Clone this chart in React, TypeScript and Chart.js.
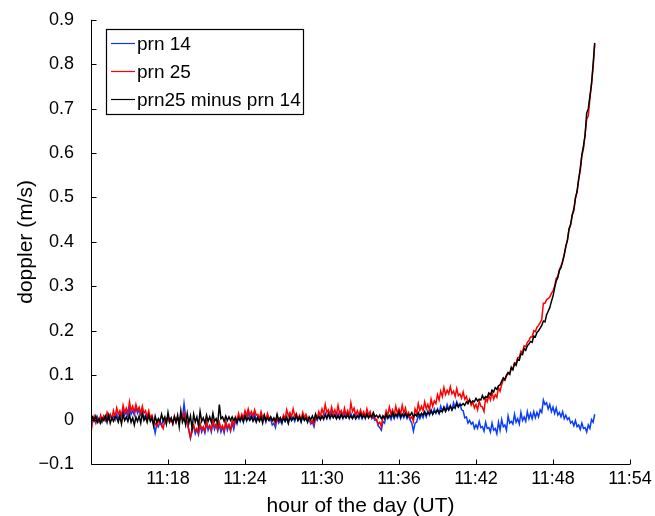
import { useEffect, useRef } from "react";
import { Chart, registerables } from "chart.js";

Chart.register(...registerables);

// sample times: minutes after 11:00, starting 11:12, every 0.125 min (8 per row = 1 minute)
const startMinute = 12;
const stepMinute = 0.125;

const prn14 = [
  0.004, -0.006, 0.002, -0.008, 0.006, -0.003, 0.004, -0.005,
  0.007, -0.002, 0.006, 0.000, 0.010, 0.001, 0.007, -0.001,
  0.012, 0.002, 0.011, 0.008, 0.021, 0.010, 0.017, 0.006,
  0.024, 0.012, 0.020, 0.010, 0.027, 0.014, 0.022, 0.010,
  0.016, 0.004, 0.010, 0.002, 0.009, -0.002, 0.003, -0.010,
  -0.030, -0.010, -0.016, -0.004, -0.014, 0.000, -0.008, 0.002,
  0.006, -0.006, 0.002, -0.010, 0.006, -0.004, 0.003, -0.006,
  0.010, 0.002, 0.036, 0.006, -0.008, -0.024, -0.042, -0.022,
  -0.016, -0.032, -0.022, -0.034, -0.012, -0.028, -0.018, -0.030,
  -0.008, -0.024, -0.014, -0.028, -0.006, -0.022, -0.012, -0.026,
  -0.012, -0.028, -0.016, -0.030, -0.008, -0.024, -0.012, -0.026,
  -0.008, -0.022, -0.002, -0.010, 0.008, -0.004, 0.006, -0.006,
  0.010, -0.002, 0.016, 0.004, 0.010, 0.002, 0.012, 0.000,
  0.006, -0.002, 0.008, -0.004, 0.006, -0.006, 0.008, -0.002,
  0.000, -0.012, -0.008, -0.018, 0.004, -0.008, -0.002, -0.010,
  0.006, -0.004, 0.002, -0.008, 0.010, -0.002, 0.006, -0.004,
  0.008, -0.002, 0.004, -0.006, 0.010, 0.000, 0.004, -0.004,
  0.000, -0.010, -0.006, -0.016, 0.004, -0.002, 0.010, 0.000,
  0.008, 0.000, 0.014, 0.004, 0.010, 0.002, 0.016, 0.006,
  0.012, 0.002, 0.014, 0.004, 0.012, 0.002, 0.014, 0.004,
  0.010, 0.002, 0.014, 0.004, 0.012, 0.002, 0.010, 0.002,
  0.012, 0.002, 0.010, 0.002, 0.014, 0.004, 0.012, 0.002,
  0.006, -0.002, 0.000, -0.014, -0.018, -0.024, -0.004, -0.008,
  0.010, 0.002, 0.008, 0.000, 0.012, 0.002, 0.012, 0.004,
  0.014, 0.002, 0.012, 0.004, 0.014, 0.002, 0.010, -0.002,
  -0.008, -0.026, -0.008, -0.006, 0.010, 0.002, 0.012, 0.004,
  0.016, 0.006, 0.020, 0.010, 0.022, 0.012, 0.024, 0.014,
  0.024, 0.014, 0.030, 0.018, 0.028, 0.020, 0.034, 0.022,
  0.032, 0.022, 0.038, 0.026, 0.040, 0.030, 0.036, 0.022,
  0.020, 0.004, 0.006, -0.008, -0.002, -0.010, -0.006, -0.020,
  -0.012, -0.020, -0.004, -0.018, -0.016, -0.026, -0.006, -0.020,
  -0.018, -0.028, -0.008, -0.024, -0.020, -0.032, -0.006, -0.024,
  0.000, -0.016, -0.012, -0.024, 0.008, -0.008, -0.004, -0.010,
  0.012, -0.006, 0.002, -0.010, 0.016, -0.002, 0.006, -0.004,
  0.018, 0.002, 0.014, 0.002, 0.018, 0.004, 0.016, 0.006,
  0.022, 0.016, 0.044, 0.034, 0.038, 0.024, 0.034, 0.018,
  0.028, 0.014, 0.026, 0.010, 0.016, 0.006, 0.018, 0.002,
  0.010, 0.000, 0.004, -0.008, -0.004, -0.014, -0.002, -0.016,
  -0.012, -0.022, -0.008, -0.020, -0.018, -0.028, -0.012, -0.020,
  0.000, -0.006, 0.012,
];

const prn25 = [
  -0.030, -0.004, 0.008, -0.004, 0.002, -0.006, 0.010, -0.002,
  0.008, 0.000, 0.016, 0.004, 0.012, 0.002, 0.020, 0.006,
  0.026, 0.012, 0.020, 0.008, 0.032, 0.016, 0.026, 0.014,
  0.040, 0.020, 0.030, 0.016, 0.034, 0.020, 0.028, 0.014,
  0.030, 0.014, 0.020, 0.006, 0.020, 0.004, 0.010, -0.004,
  -0.008, -0.016, 0.000, -0.010, -0.012, -0.020, -0.002, -0.006,
  0.006, -0.006, 0.002, -0.010, 0.008, -0.006, 0.004, -0.004,
  0.010, 0.002, 0.016, 0.000, -0.004, -0.024, -0.040, -0.022,
  -0.012, -0.026, -0.020, -0.030, -0.008, -0.022, -0.016, -0.026,
  -0.004, -0.018, -0.014, -0.024, -0.002, -0.016, -0.010, -0.022,
  -0.006, -0.020, -0.014, -0.026, -0.004, -0.018, -0.012, -0.024,
  -0.002, -0.014, 0.006, -0.002, 0.014, 0.000, 0.012, 0.004,
  0.020, 0.008, 0.024, 0.010, 0.018, 0.008, 0.022, 0.010,
  0.012, 0.002, 0.018, 0.004, 0.010, -0.002, 0.014, 0.002,
  0.006, -0.004, 0.000, -0.010, 0.008, -0.004, 0.004, -0.002,
  0.010, 0.002, 0.022, 0.008, 0.016, 0.006, 0.024, 0.008,
  0.014, 0.002, 0.010, 0.000, 0.016, 0.004, 0.012, 0.002,
  0.004, -0.006, -0.002, -0.012, 0.012, 0.002, 0.018, 0.008,
  0.024, 0.012, 0.034, 0.016, 0.022, 0.010, 0.028, 0.012,
  0.022, 0.010, 0.032, 0.014, 0.020, 0.008, 0.026, 0.010,
  0.020, 0.008, 0.038, 0.018, 0.026, 0.010, 0.020, 0.010,
  0.022, 0.010, 0.018, 0.006, 0.024, 0.010, 0.018, 0.004,
  0.014, 0.002, 0.000, -0.010, -0.006, -0.016, 0.008, 0.004,
  0.020, 0.010, 0.028, 0.012, 0.022, 0.010, 0.030, 0.014,
  0.024, 0.012, 0.032, 0.014, 0.026, 0.010, 0.016, 0.002,
  0.006, -0.004, 0.024, 0.014, 0.036, 0.020, 0.030, 0.020,
  0.040, 0.024, 0.034, 0.022, 0.046, 0.030, 0.042, 0.036,
  0.056, 0.044, 0.064, 0.052, 0.072, 0.056, 0.066, 0.058,
  0.074, 0.058, 0.064, 0.052, 0.070, 0.054, 0.058, 0.048,
  0.062, 0.046, 0.052, 0.038, 0.046, 0.032, 0.040, 0.026,
  0.034, 0.022, 0.042, 0.030, 0.028, 0.018, 0.048, 0.040,
  0.054, 0.044, 0.062, 0.046, 0.056, 0.050, 0.072, 0.064,
  0.078, 0.090, 0.088, 0.098, 0.104, 0.102, 0.116, 0.114,
  0.128, 0.126, 0.140, 0.140, 0.154, 0.152, 0.166, 0.164,
  0.174, 0.178, 0.186, 0.186, 0.200, 0.198, 0.208, 0.212,
  0.218, 0.226, 0.262, 0.262, 0.270, 0.272, 0.276, 0.284,
  0.290, 0.300, 0.318, 0.322, 0.338, 0.346, 0.356, 0.370,
  0.390, 0.404, 0.430, 0.438, 0.462, 0.470, 0.500, 0.512,
  0.542, 0.560, 0.594, 0.610, 0.642, 0.676, 0.684, 0.722,
  0.754, 0.792, 0.845,
];

const prn25MinusPrn14 = [
  -0.004, 0.006, -0.002, 0.008, -0.006, 0.002, -0.008, 0.004,
  -0.002, 0.008, -0.006, 0.010, -0.008, 0.004, -0.004, 0.006,
  0.004, -0.006, 0.008, -0.010, 0.012, -0.002, 0.006, -0.004,
  0.010, -0.006, 0.004, -0.012, 0.006, -0.004, 0.008, -0.008,
  0.014, -0.002, 0.006, -0.006, 0.010, -0.004, 0.004, -0.014,
  0.008, -0.006, 0.002, -0.004, 0.012, -0.002, 0.006, -0.010,
  0.016, -0.004, 0.004, -0.008, 0.006, -0.006, 0.010, -0.016,
  0.020, -0.006, 0.004, -0.012, 0.014, -0.008, 0.008, -0.020,
  0.012, -0.006, 0.006, -0.014, 0.018, -0.004, 0.004, -0.008,
  0.010, -0.004, 0.006, -0.006, 0.014, -0.004, 0.002, -0.010,
  0.034, 0.002, 0.006, -0.004, 0.008, -0.002, 0.006, -0.002,
  0.006, -0.002, 0.004, -0.006, 0.004, -0.002, 0.006, -0.004,
  0.008, -0.002, 0.004, -0.002, 0.006, -0.004, 0.004, -0.006,
  0.004, -0.004, 0.006, -0.008, 0.010, -0.002, 0.004, -0.002,
  0.006, -0.002, 0.004, -0.004, 0.012, -0.002, 0.004, -0.006,
  0.004, -0.004, 0.006, -0.008, 0.006, -0.002, 0.004, 0.000,
  0.010, -0.002, 0.006, -0.004, 0.008, -0.002, 0.004, -0.006,
  0.006, 0.000, 0.008, -0.002, 0.012, 0.002, 0.006, 0.000,
  0.008, 0.002, 0.010, 0.002, 0.014, 0.004, 0.010, 0.004,
  0.010, 0.002, 0.008, 0.002, 0.012, 0.004, 0.008, 0.004,
  0.012, 0.004, 0.008, 0.002, 0.010, 0.002, 0.008, 0.006,
  0.014, 0.004, 0.010, 0.004, 0.012, 0.004, 0.010, 0.006,
  0.016, 0.006, 0.010, 0.004, 0.010, 0.002, 0.008, 0.002,
  0.012, 0.004, 0.010, 0.006, 0.016, 0.006, 0.012, 0.008,
  0.018, 0.006, 0.012, 0.008, 0.014, 0.006, 0.012, 0.010,
  0.016, 0.006, 0.012, 0.008, 0.016, 0.008, 0.014, 0.010,
  0.018, 0.010, 0.016, 0.012, 0.020, 0.012, 0.018, 0.016,
  0.022, 0.014, 0.020, 0.018, 0.028, 0.018, 0.026, 0.022,
  0.030, 0.022, 0.028, 0.026, 0.036, 0.028, 0.034, 0.032,
  0.036, 0.032, 0.040, 0.036, 0.044, 0.038, 0.042, 0.040,
  0.048, 0.042, 0.046, 0.044, 0.054, 0.046, 0.052, 0.050,
  0.060, 0.056, 0.066, 0.062, 0.072, 0.068, 0.076, 0.078,
  0.086, 0.094, 0.090, 0.100, 0.106, 0.102, 0.118, 0.112,
  0.126, 0.122, 0.136, 0.134, 0.148, 0.146, 0.160, 0.156,
  0.166, 0.170, 0.176, 0.174, 0.188, 0.186, 0.196, 0.200,
  0.206, 0.212, 0.222, 0.220, 0.236, 0.244, 0.252, 0.266,
  0.278, 0.296, 0.312, 0.320, 0.336, 0.342, 0.356, 0.372,
  0.390, 0.404, 0.428, 0.440, 0.460, 0.474, 0.498, 0.514,
  0.540, 0.566, 0.596, 0.616, 0.640, 0.690, 0.700, 0.728,
  0.756, 0.800, 0.848,
];

const xTickMinutes = [18, 24, 30, 36, 42, 48, 54];
const yTickValues = [-0.1, 0, 0.1, 0.2, 0.3, 0.4, 0.5, 0.6, 0.7, 0.8, 0.9];
const seriesLabels = ["prn 14", "prn 25", "prn25 minus prn 14"];
const seriesColors = ["#0a3cff", "#ff0000", "#000000"];

const FONT = "'Liberation Sans', Arial, Helvetica, sans-serif";

function formatY(v: number): string {
  if (Math.abs(v) < 1e-9) return "0";
  return v < 0 ? "\u2212" + Math.abs(v).toFixed(1) : v.toFixed(1);
}

export default function App() {
  const ref = useRef<HTMLCanvasElement | null>(null);

  useEffect(() => {
    document.body.style.margin = "0";
    const canvas = ref.current;
    if (!canvas) return;
    const toPts = (arr: number[]) =>
      arr.map((v, i) => ({ x: startMinute + i * stepMinute, y: v }));

    const axesPlugin = {
      id: "matlabAxes",
      afterDatasetsDraw(chart: any) {
        const { ctx, chartArea: a } = chart;
        const xs = chart.scales.x;
        const ys = chart.scales.y;
        ctx.save();
        ctx.strokeStyle = "#000";
        ctx.lineWidth = 1;
        const L = Math.round(a.left) + 0.5;
        const B = Math.round(a.bottom) + 0.5;
        const T = ys.getPixelForValue(yTickValues[yTickValues.length - 1]);
        const R = xs.getPixelForValue(xTickMinutes[xTickMinutes.length - 1]);
        ctx.beginPath();
        ctx.moveTo(L, T);
        ctx.lineTo(L, B);
        ctx.lineTo(R, B);
        for (const v of yTickValues) {
          const py = Math.round(ys.getPixelForValue(v)) + 0.5;
          ctx.moveTo(L, py);
          ctx.lineTo(L + 5, py);
        }
        for (const v of xTickMinutes) {
          const px = Math.round(xs.getPixelForValue(v)) + 0.5;
          ctx.moveTo(px, B);
          ctx.lineTo(px, B - 5);
        }
        ctx.stroke();

        // legend box
        const bx = 106.5, by = 29.5, bw = 197, bh = 85;
        ctx.fillStyle = "#fff";
        ctx.fillRect(bx, by, bw, bh);
        ctx.lineWidth = 1.2;
        ctx.strokeStyle = "#000";
        ctx.strokeRect(bx, by, bw, bh);
        ctx.font = `19px ${FONT}`;
        ctx.textBaseline = "middle";
        ctx.textAlign = "left";
        const rows = [43.5, 71.5, 99.5];
        for (let i = 0; i < rows.length; i++) {
          ctx.strokeStyle = seriesColors[i];
          ctx.lineWidth = 1.2;
          ctx.beginPath();
          ctx.moveTo(111, rows[i]);
          ctx.lineTo(135, rows[i]);
          ctx.stroke();
          ctx.fillStyle = "#000";
          ctx.fillText(seriesLabels[i], 137, rows[i] + 1);
        }
        ctx.restore();
      },
    };

    const mk = (i: number, arr: number[], order: number) => ({
      label: seriesLabels[i],
      data: toPts(arr),
      borderColor: seriesColors[i],
      borderWidth: 1.5,
      pointRadius: 0,
      tension: 0,
      order,
    });

    const chart = new Chart(canvas, {
      type: "line",
      data: {
        datasets: [mk(0, prn14, 3), mk(1, prn25, 2), mk(2, prn25MinusPrn14, 1)],
      },
      options: {
        responsive: false,
        animation: false,
        devicePixelRatio: 1,
        layout: { padding: { top: 18, right: 25, left: 0, bottom: 0 } },
        plugins: { legend: { display: false }, tooltip: { enabled: false } },
        scales: {
          x: {
            type: "linear",
            min: 12,
            max: 54,
            afterBuildTicks: (s: any) => {
              s.ticks = xTickMinutes.map((v) => ({ value: v }));
            },
            afterFit: (s: any) => {
              s.height = 52;
            },
            ticks: {
              callback: (v: any) => "11:" + v,
              font: { family: FONT, size: 18 },
              color: "#000",
              padding: -4,
              maxRotation: 0,
              autoSkip: false,
            },
            grid: { display: false },
            border: { display: false },
            title: {
              display: true,
              text: "hour of the day (UT)",
              font: { family: FONT, size: 21 },
              color: "#000",
              padding: { top: 0, bottom: -3 },
            },
          },
          y: {
            type: "linear",
            min: -0.1,
            max: 0.9,
            afterBuildTicks: (s: any) => {
              s.ticks = yTickValues.map((v) => ({ value: v }));
            },
            afterFit: (s: any) => {
              s.width = 91;
            },
            ticks: {
              callback: (v: any) => formatY(Number(v)),
              font: { family: FONT, size: 18 },
              color: "#000",
              padding: 9,
            },
            grid: { display: false },
            border: { display: false },
            title: {
              display: true,
              text: "doppler (m/s)",
              font: { family: FONT, size: 21 },
              color: "#000",
              padding: { top: 14, bottom: 0 },
            },
          },
        },
      },
      plugins: [axesPlugin],
    });
    return () => chart.destroy();
  }, []);

  return (
    <div style={{ width: 655, height: 516 }}>
      <canvas ref={ref} width={655} height={516} />
    </div>
  );
}
